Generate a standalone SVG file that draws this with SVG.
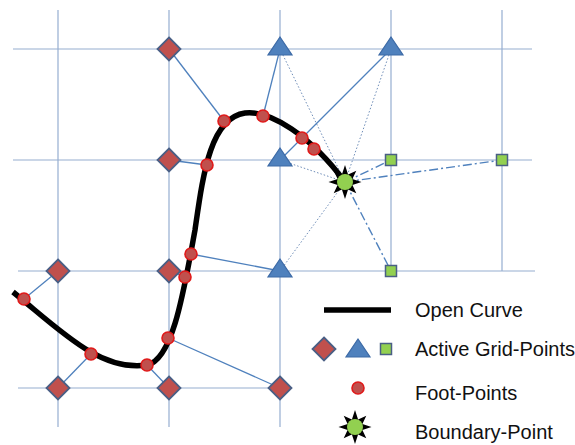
<svg xmlns="http://www.w3.org/2000/svg" xmlns:xlink="http://www.w3.org/1999/xlink" width="575" height="445" viewBox="0 0 575 445">
<style>
.grid{stroke:#95AED0;stroke-width:1.2;fill:none}
.conn{stroke:#4F81BD;stroke-width:1.3;fill:none}
.dot{stroke:#6E8DB8;stroke-width:1;stroke-dasharray:1.5 2;fill:none}
.dashdot{stroke:#4F81BD;stroke-width:1.4;stroke-dasharray:9 3 2 3;fill:none}
.curve{stroke:#000;stroke-width:5.5;fill:none;stroke-linecap:butt}
.lbl{font-family:"Liberation Sans",Arial,sans-serif;font-size:20px;fill:#111}
</style>
<defs>
<polygon id="diamond" points="0,-11.5 11.5,0 0,11.5 -11.5,0" fill="#C0504D" stroke="#4A5F85" stroke-width="1.8"/>
<polygon id="tri" points="0,-12 12,6 -12,6" fill="#4F81BD" stroke="#3C6AA6" stroke-width="1.2"/>
<rect id="sq" x="-5.5" y="-5.5" width="11" height="11" fill="#92D050" stroke="#4A5F85" stroke-width="1.5"/>
<circle id="foot" r="6" fill="#C0504D" stroke="#E01A1A" stroke-width="1.6"/>
<g id="star">
<polygon points="0,-17 3.1,-7.4 11.3,-11.3 7.4,-3.1 16.5,0 7.4,3.1 11.3,11.3 3.1,7.4 0,17 -3.1,7.4 -11.3,11.3 -7.4,3.1 -16.5,0 -7.4,-3.1 -11.3,-11.3 -3.1,-7.4" fill="#000"/>
<circle r="8" fill="#92D050"/>
</g>
</defs>
<rect width="575" height="445" fill="#fff"/>
<g id="grid">
<line class="grid" x1="13" y1="49" x2="532" y2="49"/>
<line class="grid" x1="13" y1="160" x2="532" y2="160"/>
<line class="grid" x1="18" y1="271" x2="535" y2="271"/>
<line class="grid" x1="18" y1="388" x2="280" y2="388"/>
<line class="grid" x1="58" y1="10" x2="58" y2="427"/>
<line class="grid" x1="169" y1="10" x2="169" y2="427"/>
<line class="grid" x1="280" y1="10" x2="280" y2="427"/>
<line class="grid" x1="391" y1="10" x2="391" y2="271"/>
<line class="grid" x1="502" y1="10" x2="502" y2="271"/>
</g>
<g id="connectors">
<line class="conn" x1="169" y1="49" x2="224" y2="121"/>
<line class="conn" x1="280" y1="49" x2="263" y2="116"/>
<line class="conn" x1="169" y1="160" x2="207" y2="165"/>
<line class="conn" x1="391" y1="49" x2="302" y2="138"/>
<line class="conn" x1="280" y1="160" x2="302" y2="138"/>
<line class="conn" x1="280" y1="271" x2="191" y2="254"/>
<line class="conn" x1="169" y1="271" x2="185" y2="277"/>
<line class="conn" x1="280" y1="388" x2="168" y2="338"/>
<line class="conn" x1="169" y1="388" x2="147" y2="365"/>
<line class="conn" x1="58" y1="388" x2="91" y2="354"/>
<line class="conn" x1="58" y1="271" x2="24" y2="299"/>
<line class="dot" x1="345" y1="182" x2="280" y2="49"/>
<line class="dot" x1="345" y1="182" x2="391" y2="49"/>
<line class="dot" x1="345" y1="182" x2="280" y2="160"/>
<line class="dot" x1="345" y1="182" x2="280" y2="271"/>
<line class="dashdot" x1="345" y1="182" x2="391" y2="160"/>
<line class="dashdot" x1="345" y1="182" x2="502" y2="160"/>
<line class="dashdot" x1="345" y1="182" x2="391" y2="271"/>
</g>
<g id="open-curve">
<path class="curve" d="M13,292 C60,330 100,372 147,365 C173,360 184,290 195,230 C203,175 210,118 245,113 C270,110 310,135 345,182"/>
</g>
<g id="foot-points">
<use xlink:href="#foot" x="24" y="299"/>
<use xlink:href="#foot" x="91" y="354"/>
<use xlink:href="#foot" x="147" y="365"/>
<use xlink:href="#foot" x="168" y="338"/>
<use xlink:href="#foot" x="185" y="277"/>
<use xlink:href="#foot" x="191" y="254"/>
<use xlink:href="#foot" x="207" y="165"/>
<use xlink:href="#foot" x="224" y="121"/>
<use xlink:href="#foot" x="263" y="116"/>
<use xlink:href="#foot" x="302" y="138"/>
<use xlink:href="#foot" x="314" y="149"/>
</g>
<g id="d1"><use xlink:href="#diamond" x="169" y="49"/></g>
<g id="d2"><use xlink:href="#diamond" x="169" y="160"/></g>
<g id="d3"><use xlink:href="#diamond" x="58" y="271"/></g>
<g id="d4"><use xlink:href="#diamond" x="169" y="271"/></g>
<g id="d5"><use xlink:href="#diamond" x="58" y="388"/></g>
<g id="d6"><use xlink:href="#diamond" x="169" y="388"/></g>
<g id="d7"><use xlink:href="#diamond" x="280" y="388"/></g>
<g id="t1"><use xlink:href="#tri" x="280" y="49"/></g>
<g id="t2"><use xlink:href="#tri" x="391" y="49"/></g>
<g id="t3"><use xlink:href="#tri" x="280" y="160"/></g>
<g id="t4"><use xlink:href="#tri" x="280" y="271"/></g>
<g id="s1"><use xlink:href="#sq" x="391" y="160"/></g>
<g id="s2"><use xlink:href="#sq" x="502" y="160"/></g>
<g id="s3"><use xlink:href="#sq" x="391" y="271"/></g>
<g id="boundary-point"><use xlink:href="#star" x="345" y="182"/></g>
<g id="legend">
<line x1="324" y1="310" x2="391" y2="310" stroke="#000" stroke-width="5.5"/>
<text class="lbl" x="415" y="317">Open Curve</text>
<use xlink:href="#diamond" x="324" y="349"/>
<use xlink:href="#tri" x="358" y="351"/>
<use xlink:href="#sq" x="386" y="349"/>
<text class="lbl" x="415" y="356">Active Grid-Points</text>
<use xlink:href="#foot" x="358" y="388"/>
<text class="lbl" x="415" y="400">Foot-Points</text>
<use xlink:href="#star" x="355" y="427"/>
<text class="lbl" x="415" y="439">Boundary-Point</text>
</g>
</svg>
